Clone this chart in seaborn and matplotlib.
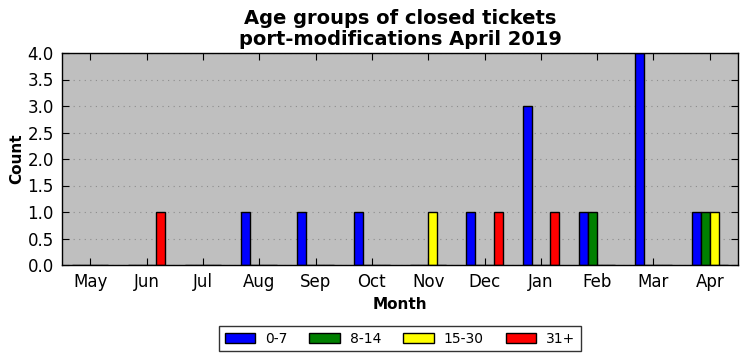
import pandas as pd
import matplotlib
matplotlib.use('Agg')
import matplotlib.pyplot as plt
import seaborn as sns

months = ['May', 'Jun', 'Jul', 'Aug', 'Sep', 'Oct', 'Nov', 'Dec', 'Jan', 'Feb', 'Mar', 'Apr']
age_groups = ['0-7', '8-14', '15-30', '31+']
count_0_7 = [0, 0, 0, 1, 1, 1, 0, 1, 3, 1, 4, 1]
count_8_14 = [0, 0, 0, 0, 0, 0, 0, 0, 0, 1, 0, 1]
count_15_30 = [0, 0, 0, 0, 0, 0, 1, 0, 0, 0, 0, 1]
count_31_plus = [0, 1, 0, 0, 0, 0, 0, 1, 1, 0, 0, 0]
colors = ['blue', 'green', 'yellow', 'red']

rows = []
for group, vals in zip(age_groups, [count_0_7, count_8_14, count_15_30, count_31_plus]):
    for m, v in zip(months, vals):
        rows.append({'Month': m, 'Age': group, 'Count': v})
df = pd.DataFrame(rows)

sns.set_style('ticks')
plt.rcParams['font.family'] = ['DejaVu Sans']
plt.rcParams['text.color'] = 'black'
plt.rcParams['axes.labelcolor'] = 'black'
plt.rcParams['xtick.color'] = 'black'
plt.rcParams['ytick.color'] = 'black'

fig = plt.figure(figsize=(7.47, 3.61), dpi=100)
ax = fig.add_axes([62 / 747, 1 - 265 / 361, 676 / 747, 212 / 361])

sns.barplot(data=df, x='Month', y='Count', hue='Age', order=months, hue_order=age_groups,
            palette=colors, width=0.65, edgecolor='black', linewidth=1, saturation=1, ax=ax)

ax.set_facecolor('#bfbfbf')
ax.set_ylim(0, 4)
ax.set_yticks([i * 0.5 for i in range(9)])
ax.set_xlim(-0.5, 11.5)
ax.yaxis.grid(True, linestyle=(0, (1, 4)), color='#8c8c8c', linewidth=0.8)
ax.set_axisbelow(True)
for sp in ax.spines.values():
    sp.set_color('black')
    sp.set_linewidth(1)
ax.tick_params(direction='in', top=True, right=True, labelsize=12, length=5, width=0.8, pad=6)

ax.set_title('Age groups of closed tickets\nport-modifications April 2019',
             fontsize=14, fontweight='bold', linespacing=1.1)
ax.set_xlabel('Month', fontsize=11, fontweight='bold')
ax.set_ylabel('Count', fontsize=11, fontweight='bold', labelpad=2)

ax.legend(loc='upper center', bbox_to_anchor=(0.5, -0.255), ncol=4, frameon=True,
          fancybox=False, edgecolor='black', fontsize=10, handlelength=2.2,
          columnspacing=1.6, borderpad=0.4, handletextpad=0.7)

fig.savefig('out.png', dpi=100, facecolor='white')
